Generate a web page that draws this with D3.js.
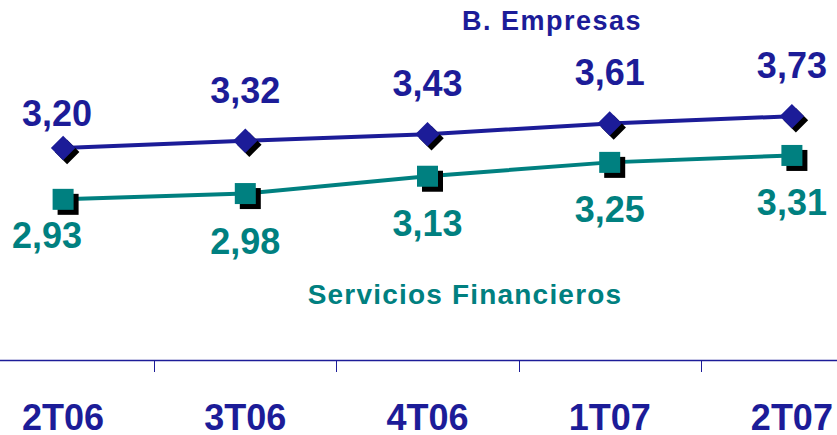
<!DOCTYPE html>
<html>
<head>
<meta charset="utf-8">
<script src="https://cdn.jsdelivr.net/npm/d3@7"></script>
<style>
  html, body { margin: 0; padding: 0; background: #fff; }
  svg { display: block; font-family: "Liberation Sans", Arial, sans-serif; font-weight: bold; }
</style>
</head>
<body>
<div id="chart"></div>
<script>
// Data

const quarters = ["2T06", "3T06", "4T06", "1T07", "2T07"];
const empresas = [3.20, 3.32, 3.43, 3.61, 3.73];
const servicios = [2.93, 2.98, 3.13, 3.25, 3.31];
const seriesNames = ["B. Empresas", "Servicios Financieros"];

const navy = "#1c1c98";
const teal = "#008080";

const width = 837, height = 435;

const svg = d3.select("#chart")
  .append("svg")
  .attr("width", width)
  .attr("height", height);

// number format with comma decimal
const fmt = d3.formatLocale({ decimal: ",", thousands: ".", grouping: [3], currency: ["", "€"] }).format(".2f");

// Scales (two value axes, like the original)

const x = d3.scaleBand()
  .domain(quarters)
  .range([-28, 883]);

const cx = d => x(d) + x.bandwidth() / 2;

const yEmp = d3.scaleLinear().domain([3, 4]).range([160, 100]);
const ySer = d3.scaleLinear().domain([2.5, 3.5]).range([249, 133.5]);

// Axis

const axisY = 360;
const axis = svg.append("g")
  .attr("transform", `translate(0,${axisY})`)
  .call(d3.axisBottom(x).tickSize(0).tickPadding(0).tickFormat(""));
axis.select(".domain").remove();

svg.append("line")
  .attr("x1", 0).attr("x2", width)
  .attr("y1", axisY + 0.5).attr("y2", axisY + 0.5)
  .attr("stroke", navy).attr("stroke-width", 1.3);

// tick marks between categories
svg.selectAll(".sep")
  .data(quarters.slice(1))
  .enter()
  .append("line")
  .attr("x1", d => Math.round(x(d)) + 0.5)
  .attr("x2", d => Math.round(x(d)) + 0.5)
  .attr("y1", axisY)
  .attr("y2", axisY + 12)
  .attr("stroke", navy)
  .attr("stroke-width", 1);

svg.selectAll(".cat")
  .data(quarters)
  .enter()
  .append("text")
  .attr("x", d => cx(d))
  .attr("y", 430)
  .attr("text-anchor", "middle")
  .attr("fill", navy)
  .style("font-size", "36px")
  .text(d => d);

// Lines

const empData = quarters.map((q, i) => ({ q, v: empresas[i] }));
const serData = quarters.map((q, i) => ({ q, v: servicios[i] }));

svg.append("path")
  .datum(empData)
  .attr("fill", "none")
  .attr("stroke", navy)
  .attr("stroke-width", 4)
  .attr("d", d3.line().x(d => cx(d.q)).y(d => yEmp(d.v)));

svg.append("path")
  .datum(serData)
  .attr("fill", "none")
  .attr("stroke", teal)
  .attr("stroke-width", 4)
  .attr("d", d3.line().x(d => cx(d.q)).y(d => ySer(d.v)));

// Markers with shadows

const diamond = d3.symbol().type(d3.symbolSquare).size(300);

svg.selectAll(".dshadow")
  .data(empData)
  .enter()
  .append("path")
  .attr("d", diamond)
  .attr("fill", "#000")
  .attr("transform", d => `translate(${cx(d.q) + 4},${yEmp(d.v) + 4}) rotate(45)`);

svg.selectAll(".dmark")
  .data(empData)
  .enter()
  .append("path")
  .attr("d", diamond)
  .attr("fill", navy)
  .attr("transform", d => `translate(${cx(d.q)},${yEmp(d.v)}) rotate(45)`);

const sq = 21;

svg.selectAll(".sshadow")
  .data(serData)
  .enter()
  .append("rect")
  .attr("x", d => cx(d.q) - sq / 2 + 5)
  .attr("y", d => ySer(d.v) - sq / 2 + 5)
  .attr("width", sq).attr("height", sq)
  .attr("fill", "#000");

svg.selectAll(".smark")
  .data(serData)
  .enter()
  .append("rect")
  .attr("x", d => cx(d.q) - sq / 2)
  .attr("y", d => ySer(d.v) - sq / 2)
  .attr("width", sq).attr("height", sq)
  .attr("fill", teal);

// Data labels (the first pair sits a little closer in the original)

svg.selectAll(".elabel")
  .data(empData)
  .enter()
  .append("text")
  .attr("x", (d, i) => cx(d.q) - (i === 0 ? 6 : 0))
  .attr("y", (d, i) => yEmp(d.v) - (i === 0 ? 22 : 38))
  .attr("text-anchor", "middle")
  .attr("fill", navy)
  .style("font-size", "36px")
  .text(d => fmt(d.v));

svg.selectAll(".slabel")
  .data(serData)
  .enter()
  .append("text")
  .attr("x", (d, i) => cx(d.q) - (i === 0 ? 16 : 0))
  .attr("y", (d, i) => ySer(d.v) + (i === 0 ? 49 : 60))
  .attr("text-anchor", "middle")
  .attr("fill", teal)
  .style("font-size", "36px")
  .text(d => fmt(d.v));

// Series titles

svg.append("text")
  .attr("x", 552)
  .attr("y", 30)
  .attr("text-anchor", "middle")
  .attr("fill", navy)
  .style("font-size", "27px")
  .style("letter-spacing", "1.5px")
  .text(seriesNames[0]);

svg.append("text")
  .attr("x", 465)
  .attr("y", 304)
  .attr("text-anchor", "middle")
  .attr("fill", teal)
  .style("font-size", "28px")
  .style("letter-spacing", "1.2px")
  .text(seriesNames[1]);
</script>
</body>
</html>
